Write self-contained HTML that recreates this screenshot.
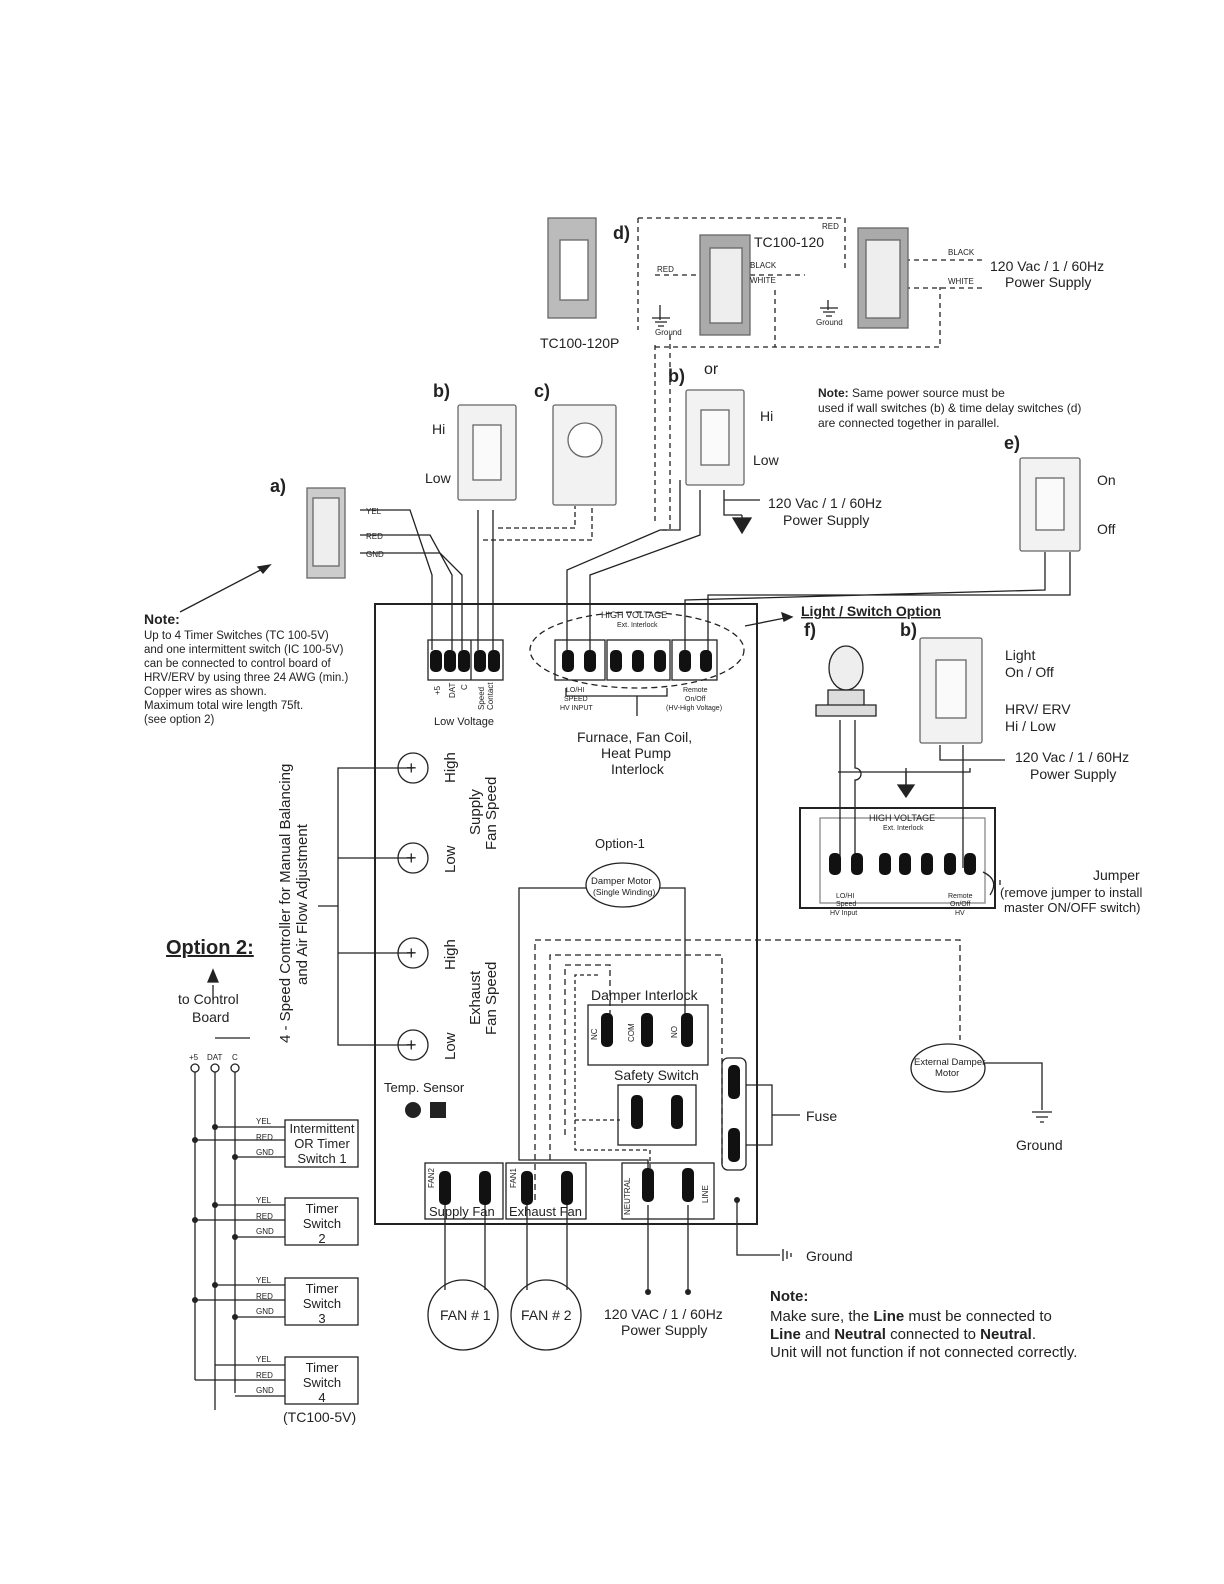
<!DOCTYPE html>
<html><head><meta charset="utf-8"><style>
html,body{margin:0;padding:0;background:#fff}
svg{display:block}
text{font-family:"Liberation Sans",sans-serif;fill:#222}
</style></head><body>
<svg width="1224" height="1584" viewBox="0 0 1224 1584" xmlns="http://www.w3.org/2000/svg">
<defs>
<g id="term"><rect x="-6" y="-11" width="12" height="22" rx="5" fill="#111"/></g>
<g id="vterm"><rect x="-6" y="-17" width="12" height="34" rx="5" fill="#111"/></g>
</defs>
<g stroke="#222" fill="none" stroke-width="1.3">
<!-- main board -->
<rect x="375" y="604" width="382" height="620" stroke-width="2"/>
<!-- low voltage terminal box -->
<rect x="428" y="640" width="75" height="40"/>
<line x1="471" y1="640" x2="471" y2="680"/>
<!-- high voltage group -->
<ellipse cx="637" cy="650" rx="107" ry="38" stroke-dasharray="6,4"/>
<rect x="555" y="640" width="50" height="40"/><rect x="607" y="640" width="63" height="40"/><rect x="672" y="640" width="45" height="40"/>
<path d="M566 688 v8 h101 v-8 M637 696 v20"/>
<!-- speed controller -->
<path d="M413 768 H338 V1045 H413 M338 858 H413 M338 953 H413 M338 906 H318"/>
<circle cx="413" cy="768" r="15"/><circle cx="413" cy="858" r="15"/><circle cx="413" cy="953" r="15"/><circle cx="413" cy="1045" r="15"/>
<!-- damper motor -->
<ellipse cx="623" cy="885" rx="37" ry="22"/>
<path d="M586 888 H519 V1160 H648 V1175 M660 888 H685 V1030"/>
<rect x="588" y="1005" width="120" height="60"/>
<rect x="618" y="1085" width="78" height="60"/>
<path d="M535 1200 V940 H960 V1040" stroke-dasharray="6,4"/>
<path d="M550 1160 V955 H722 V1165" stroke-dasharray="6,4"/>
<path d="M565 1135 V965 H610 V1025" stroke-dasharray="6,4"/>
<path d="M575 1120 H620 M650 1175 V1150 H575 V975 H600" stroke-dasharray="4,3"/>
<rect x="722" y="1058" width="24" height="112" rx="6"/>
<path d="M746 1085 H772 V1145 H746 M772 1115 H800"/>
<ellipse cx="948" cy="1068" rx="37" ry="24"/>
<path d="M985 1063 H1042 V1110"/>
<path d="M1032 1112 h20 M1036 1117 h12 M1040 1122 h4"/>
<!-- bottom terminals -->
<rect x="425" y="1163" width="78" height="56"/><rect x="506" y="1163" width="80" height="56"/><rect x="622" y="1163" width="92" height="56"/>
<path d="M445 1205 V1290 M485 1205 V1290 M527 1205 V1290 M567 1205 V1290 M648 1205 V1292 M688 1205 V1292"/>
<circle cx="463" cy="1315" r="35"/><circle cx="546" cy="1315" r="35"/>
<path d="M737 1200 V1255 H780 M783 1249 v12 M787 1251 v8 M791 1253 v4"/>
<!-- top wiring from wall switch a -->
<path d="M360 510 H410 L432 575 V650 M360 535 H430 L452 575 V650 M360 553 H440 L462 575 V650"/>
<path d="M478 510 V650 M493 510 V650"/>
<path d="M483 540 H592 V506 M498 528 H575 V506" stroke-dasharray="5,3"/>
<path d="M567 655 V570 L660 530 H680 V480 M590 655 V575 L700 535 V490"/>
<path d="M724 490 V500 H760 M724 500 V515 H742 M742 515 v16" />
<path d="M733 518 h18 l-9 15z" fill="#222"/>
<path d="M685 655 V600 L1045 590 V552 M708 655 V595 L1070 595 V552"/>
<path d="M180 612 L270 565" /><path d="M270 565 l-12 2 l5 6z" fill="#222"/>
<path d="M745 626 L790 617"/><path d="M792 617 l-10 -4 l2 8z" fill="#222"/>
<!-- dashed top d wiring -->
<path d="M638 218 V330 M638 218 H845 V270 M655 275 H705 M750 275 H805 M655 345 V525 M670 335 V530 H660 M655 347 H940 V287 M775 290 V347 M905 260 H985 M905 288 H985" stroke-dasharray="5,4"/>
<path d="M660 305 V320 M652 318 h18 M655 322 h12 M658 326 h6 M828 300 V310 M820 308 h18 M823 312 h12 M826 316 h6"/>
<!-- right light option -->
<rect x="800" y="808" width="195" height="100" stroke-width="2"/>
<rect x="820" y="818" width="165" height="85" fill="none" stroke="#888"/>
<path d="M840 720 V870 M855 720 V768 a6 6 0 0 1 0 12 V870 M940 745 V760 H1005 M906 768 V785 M963 745 V868"/>
<path d="M838 772 H970 V768 M906 772 V785"/>
<path d="M898 785 h16 l-8 12z" fill="#222"/>
<path d="M983 872 Q1000 880 990 895 M1000 885 L1000 880"/>
<!-- light bulb -->
<path d="M816 705 H876 V716 H816Z M828 705 V690 H864 V705" fill="#ddd"/>
<ellipse cx="846" cy="668" rx="17" ry="22" fill="#eee"/>
<!-- bottom-left option 2 -->
<path d="M215 1038 H250 M213 985 V1000"/>
<path d="M195 1072 V1380 M215 1072 V1410 M235 1072 V1393"/>
<circle cx="195" cy="1068" r="4"/><circle cx="215" cy="1068" r="4"/><circle cx="235" cy="1068" r="4"/>
<path d="M195 1140 H285 M215 1127 H285 M235 1157 H285 M195 1220 H285 M215 1205 H285 M235 1237 H285 M195 1300 H285 M215 1285 H285 M235 1317 H285 M195 1380 H285 M215 1365 H285 M235 1396 H285"/>
<rect x="285" y="1120" width="73" height="47"/><rect x="285" y="1198" width="73" height="47"/>
<rect x="285" y="1278" width="73" height="47"/><rect x="285" y="1357" width="73" height="47"/>
<path d="M213 970 l-5 12 h10z" fill="#222"/>
</g>
<g fill="#222">
<circle cx="215" cy="1127" r="3"/><circle cx="195" cy="1140" r="3"/><circle cx="235" cy="1157" r="3"/>
<circle cx="215" cy="1205" r="3"/><circle cx="195" cy="1220" r="3"/><circle cx="235" cy="1237" r="3"/>
<circle cx="215" cy="1285" r="3"/><circle cx="195" cy="1300" r="3"/><circle cx="235" cy="1317" r="3"/>
<circle cx="648" cy="1292" r="3"/><circle cx="688" cy="1292" r="3"/><circle cx="737" cy="1200" r="3"/>
<use href="#term" x="436" y="661"/><use href="#term" x="450" y="661"/><use href="#term" x="464" y="661"/><use href="#term" x="480" y="661"/><use href="#term" x="494" y="661"/>
<use href="#term" x="568" y="661"/><use href="#term" x="590" y="661"/><use href="#term" x="616" y="661"/><use href="#term" x="638" y="661"/><use href="#term" x="660" y="661"/><use href="#term" x="685" y="661"/><use href="#term" x="706" y="661"/>
<use href="#term" x="835" y="864"/><use href="#term" x="857" y="864"/><use href="#term" x="885" y="864"/><use href="#term" x="905" y="864"/><use href="#term" x="927" y="864"/><use href="#term" x="950" y="864"/><use href="#term" x="970" y="864"/>
<use href="#vterm" x="607" y="1030"/><use href="#vterm" x="647" y="1030"/><use href="#vterm" x="687" y="1030"/>
<use href="#vterm" x="637" y="1112"/><use href="#vterm" x="677" y="1112"/>
<use href="#vterm" x="445" y="1188"/><use href="#vterm" x="485" y="1188"/><use href="#vterm" x="527" y="1188"/><use href="#vterm" x="567" y="1188"/>
<use href="#vterm" x="648" y="1185"/><use href="#vterm" x="688" y="1185"/>
<use href="#vterm" x="734" y="1082"/><use href="#vterm" x="734" y="1145"/>
<rect x="405" y="1102" width="16" height="16" rx="8"/><rect x="430" y="1102" width="16" height="16"/>
</g>
<!-- switch plates -->
<g stroke="#666" fill="#f2f2f2" stroke-width="1.3">
<rect x="458" y="405" width="58" height="95" rx="2"/><rect x="473" y="425" width="28" height="55" fill="#fafafa"/>
<rect x="553" y="405" width="63" height="100" rx="2"/><circle cx="585" cy="440" r="17" fill="#fff"/>
<rect x="686" y="390" width="58" height="95" rx="2"/><rect x="701" y="410" width="28" height="55" fill="#fafafa"/>
<rect x="1020" y="458" width="60" height="93" rx="2"/><rect x="1036" y="478" width="28" height="52" fill="#fafafa"/>
<rect x="920" y="638" width="62" height="105" rx="2"/><rect x="936" y="660" width="30" height="58" fill="#fafafa"/>
<rect x="307" y="488" width="38" height="90" fill="#ccc"/><rect x="313" y="498" width="26" height="68" fill="#eee"/>
<rect x="548" y="218" width="48" height="100" fill="#bbb"/><rect x="560" y="240" width="28" height="60" fill="#fff"/>
<rect x="700" y="235" width="50" height="100" fill="#aaa"/><rect x="710" y="248" width="32" height="75" fill="#eee"/>
<rect x="858" y="228" width="50" height="100" fill="#aaa"/><rect x="866" y="240" width="34" height="78" fill="#eee"/>
</g>
<g font-size="14">
<text x="613" y="239" font-size="18" font-weight="bold">d)</text>
<text x="754" y="247">TC100-120</text>
<text x="540" y="348">TC100-120P</text>
<text x="990" y="271">120 Vac / 1 / 60Hz</text><text x="1005" y="287">Power Supply</text>
<text x="433" y="397" font-size="18" font-weight="bold">b)</text><text x="534" y="397" font-size="18" font-weight="bold">c)</text>
<text x="668" y="382" font-size="18" font-weight="bold">b)</text><text x="704" y="374" font-size="16">or</text>
<text x="432" y="434">Hi</text><text x="425" y="483">Low</text><text x="760" y="421">Hi</text><text x="753" y="465">Low</text>
<text x="818" y="397" font-size="12"><tspan font-weight="bold">Note:</tspan> Same power source must be</text>
<text x="818" y="412" font-size="12">used if wall switches (b) &amp; time delay switches (d)</text>
<text x="818" y="427" font-size="12">are connected together in parallel.</text>
<text x="1004" y="449" font-size="18" font-weight="bold">e)</text>
<text x="1097" y="485">On</text><text x="1097" y="534">Off</text>
<text x="768" y="508">120 Vac / 1 / 60Hz</text><text x="783" y="525">Power Supply</text>
<text x="270" y="492" font-size="18" font-weight="bold">a)</text>
<text x="144" y="624" font-weight="bold">Note:</text>
<g font-size="11.5"><text x="144" y="639">Up to 4 Timer Switches (TC 100-5V)</text><text x="144" y="653">and one intermittent switch (IC 100-5V)</text><text x="144" y="667">can be connected to control board of</text><text x="144" y="681">HRV/ERV by using three 24 AWG (min.)</text><text x="144" y="695">Copper wires as shown.</text><text x="144" y="709">Maximum total wire length 75ft.</text><text x="144" y="723">(see option 2)</text></g>
<text x="434" y="725" font-size="11">Low Voltage</text>
<text x="801" y="616" font-weight="bold" text-decoration="underline">Light / Switch Option</text>
<text x="804" y="636" font-size="18" font-weight="bold">f)</text><text x="900" y="636" font-size="18" font-weight="bold">b)</text>
<text x="1005" y="660">Light</text><text x="1005" y="677">On / Off</text><text x="1005" y="714">HRV/ ERV</text><text x="1005" y="731">Hi / Low</text>
<text x="1015" y="762">120 Vac / 1 / 60Hz</text><text x="1030" y="779">Power Supply</text>
<text x="1093" y="880">Jumper</text><text x="1000" y="897" font-size="13">(remove jumper to install</text><text x="1004" y="912" font-size="13">master ON/OFF switch)</text>
<text x="577" y="742">Furnace, Fan Coil,</text><text x="601" y="758">Heat Pump</text><text x="611" y="774">Interlock</text>
<text x="595" y="848" font-size="13">Option-1</text>
<text x="591" y="884" font-size="9.5">Damper Motor</text><text x="593" y="895" font-size="8.5">(Single Winding)</text>
<text x="591" y="1000">Damper Interlock</text><text x="614" y="1080">Safety Switch</text>
<text x="806" y="1121">Fuse</text><text x="1016" y="1150">Ground</text><text x="806" y="1261">Ground</text>
<text x="914" y="1065" font-size="9.5">External Damper</text><text x="935" y="1076" font-size="9.5">Motor</text>
<text x="384" y="1092" font-size="13">Temp. Sensor</text>
<text x="429" y="1216" font-size="13">Supply Fan</text><text x="509" y="1216" font-size="13">Exhaust Fan</text>
<text x="440" y="1320">FAN # 1</text><text x="521" y="1320">FAN # 2</text>
<text x="604" y="1319">120 VAC / 1 / 60Hz</text><text x="621" y="1335">Power Supply</text>
<text x="770" y="1301" font-weight="bold" font-size="15">Note:</text>
<text x="770" y="1321" font-size="15">Make sure, the <tspan font-weight="bold">Line</tspan> must be connected to</text>
<text x="770" y="1339" font-size="15"><tspan font-weight="bold">Line</tspan> and <tspan font-weight="bold">Neutral</tspan> connected to <tspan font-weight="bold">Neutral</tspan>.</text>
<text x="770" y="1357" font-size="15">Unit will not function if not connected correctly.</text>
<text x="166" y="954" font-size="20" font-weight="bold" text-decoration="underline">Option 2:</text>
<text x="178" y="1004">to Control</text><text x="192" y="1022">Board</text>
<text x="283" y="1422">(TC100-5V)</text>
<g font-size="13" text-anchor="middle">
<text x="322" y="1133">Intermittent</text><text x="322" y="1148">OR  Timer</text><text x="322" y="1163">Switch 1</text>
<text x="322" y="1213">Timer</text><text x="322" y="1228">Switch</text><text x="322" y="1243">2</text>
<text x="322" y="1293">Timer</text><text x="322" y="1308">Switch</text><text x="322" y="1323">3</text>
<text x="322" y="1372">Timer</text><text x="322" y="1387">Switch</text><text x="322" y="1402">4</text>
</g>
<g font-size="8"><text x="256" y="1124">YEL</text><text x="256" y="1140">RED</text><text x="256" y="1155">GND</text>
<text x="256" y="1203">YEL</text><text x="256" y="1219">RED</text><text x="256" y="1234">GND</text>
<text x="256" y="1283">YEL</text><text x="256" y="1299">RED</text><text x="256" y="1314">GND</text>
<text x="256" y="1362">YEL</text><text x="256" y="1378">RED</text><text x="256" y="1393">GND</text>
<text x="189" y="1060">+5</text><text x="207" y="1060">DAT</text><text x="232" y="1060">C</text>
<text x="366" y="514">YEL</text><text x="366" y="539">RED</text><text x="366" y="557">GND</text>
<text x="822" y="229">RED</text><text x="657" y="272">RED</text><text x="750" y="268">BLACK</text><text x="750" y="283">WHITE</text>
<text x="948" y="255">BLACK</text><text x="948" y="284">WHITE</text><text x="655" y="335">Ground</text><text x="816" y="325">Ground</text>
<text x="601" y="618" font-size="9">HIGH VOLTAGE</text><text x="617" y="627" font-size="7">Ext. Interlock</text>
<text x="566" y="692" font-size="7">LO/HI</text><text x="564" y="701" font-size="7">SPEED</text><text x="560" y="710" font-size="7">HV INPUT</text>
<text x="683" y="692" font-size="7">Remote</text><text x="685" y="701" font-size="7">On/Off</text><text x="666" y="710" font-size="7">(HV-High Voltage)</text>
<text x="869" y="821" font-size="9">HIGH VOLTAGE</text><text x="883" y="830" font-size="7">Ext. Interlock</text>
<text x="836" y="898" font-size="7">LO/HI</text><text x="836" y="906" font-size="7">Speed</text><text x="830" y="915" font-size="7">HV Input</text>
<text x="948" y="898" font-size="7">Remote</text><text x="950" y="906" font-size="7">On/Off</text><text x="955" y="915" font-size="7">HV</text>
</g>
<g font-size="15">
<text transform="translate(455 783) rotate(-90)">High</text>
<text transform="translate(455 873) rotate(-90)">Low</text>
<text transform="translate(455 970) rotate(-90)">High</text>
<text transform="translate(455 1060) rotate(-90)">Low</text>
<text transform="translate(480 835) rotate(-90)">Supply</text>
<text transform="translate(496 850) rotate(-90)">Fan Speed</text>
<text transform="translate(480 1025) rotate(-90)">Exhaust</text>
<text transform="translate(496 1035) rotate(-90)">Fan Speed</text>
<text transform="translate(290 1043) rotate(-90)">4 - Speed Controller for Manual Balancing</text>
<text transform="translate(307 985) rotate(-90)">and Air Flow Adjustment</text>
</g>
<g font-size="8">
<text transform="translate(630 1215) rotate(-90)">NEUTRAL</text>
<text transform="translate(708 1203) rotate(-90)">LINE</text>
<text transform="translate(434 1188) rotate(-90)">FAN2</text>
<text transform="translate(516 1188) rotate(-90)">FAN1</text>
<text transform="translate(597 1040) rotate(-90)">NC</text><text transform="translate(634 1042) rotate(-90)">COM</text><text transform="translate(677 1038) rotate(-90)">NO</text>
<text transform="translate(440 695) rotate(-90)">+5</text><text transform="translate(455 698) rotate(-90)">DAT</text><text transform="translate(467 690) rotate(-90)">C</text>
<text transform="translate(484 710) rotate(-90)">Speed</text><text transform="translate(493 710) rotate(-90)">Contact</text>
</g>
<g font-size="18"><text x="406" y="774">+</text><text x="406" y="864">+</text><text x="406" y="959">+</text><text x="406" y="1051">+</text></g>
</svg>
</body></html>
